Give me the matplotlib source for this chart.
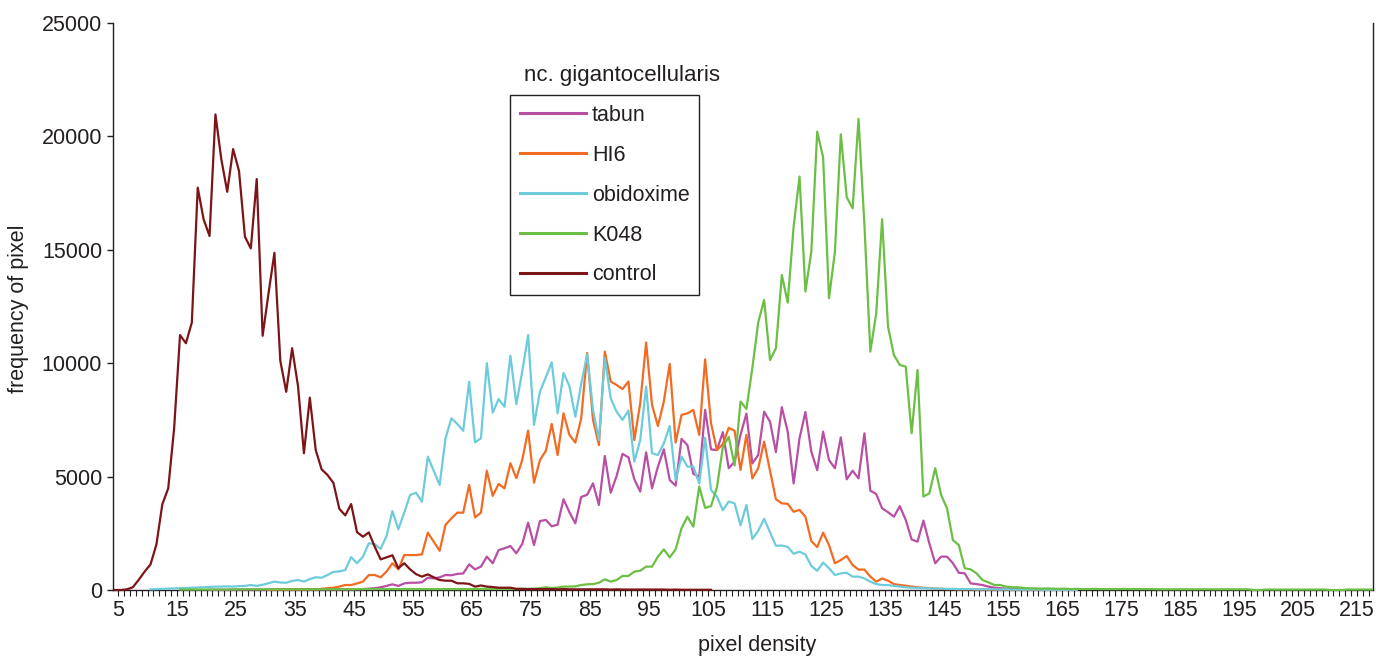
import numpy as np
import matplotlib
matplotlib.use("Agg")
import matplotlib.pyplot as plt
from matplotlib.ticker import FixedLocator

plt.rcParams['font.family'] = ['Liberation Sans', 'DejaVu Sans']

# pixel density categories, each series starts at its own first category
control_start = 4
control = [0, 0, 30, 120, 450, 810, 1130, 2010, 3780, 4480, 7130, 11240, 10880, 11790,
           17740, 16340, 15610, 20970, 18990, 17560, 19440, 18470, 15580, 15060, 18120,
           11210, 13080, 14870, 10100, 8740, 10660, 8990, 6030, 8480, 6170, 5320, 5070,
           4720, 3580, 3290, 3790, 2550, 2350, 2540, 1910, 1350, 1440, 1530, 960, 1180,
           910, 700, 590, 690, 560, 440, 410, 410, 295, 295, 270, 150, 200, 150, 130,
           100, 100, 100, 50, 50, 40, 40, 40, 40, 40, 30, 40, 30, 30, 30, 30, 30, 30, 30,
           20, 30, 20, 20, 20, 20, 20, 20, 20, 20, 10, 20, 10, 10, 10, 10, 10, 10]

tabun_start = 20
tabun = [10, 10, 10, 10, 20, 20, 20, 20, 20, 20, 20, 20, 30, 30, 30, 30, 30, 30, 30, 30,
         30, 30, 30, 30, 30, 30, 40, 60, 80, 120, 180, 250, 180, 290, 320, 320, 340, 540,
         510, 560, 660, 650, 710, 730, 1130, 910, 1030, 1470, 1180, 1760, 1840, 1940,
         1620, 2030, 2970, 1980, 3040, 3090, 2810, 2880, 4000, 3430, 2940, 4100, 4200,
         4700, 3750, 5910, 4290, 5030, 6000, 5850, 4880, 4340, 6070, 4480, 5440, 6200,
         4850, 4600, 6660, 6390, 5120, 5000, 7940, 6200, 6170, 6960, 5370, 5660, 6840,
         7780, 5580, 5950, 7860, 7420, 6080, 8060, 6980, 4700, 6690, 7850, 6100, 5280,
         6980, 5730, 5370, 6730, 4880, 5260, 4920, 6910, 4380, 4230, 3600, 3430, 3230,
         3700, 3090, 2230, 2130, 3060, 2060, 1180, 1470, 1470, 1180, 760, 735, 290, 260,
         220, 150, 100, 80, 60, 50, 40, 30, 30, 30, 20, 20, 20, 10, 10]

hi6_start = 30
hi6 = [10, 20, 20, 20, 20, 30, 30, 30, 30, 50, 80, 100, 150, 220, 220, 290, 370, 660,
       660, 560, 810, 1180, 910, 1540, 1540, 1540, 1570, 2530, 2130, 1730, 2870, 3160,
       3410, 3410, 4630, 3200, 3410, 5260, 4150, 4680, 4480, 5590, 4930, 5730, 7030,
       4730, 5730, 6140, 7320, 5950, 7790, 6840, 6500, 7570, 10450, 7500, 6390, 10510,
       9190, 9040, 8860, 9190, 6610, 8230, 10910, 8160, 7230, 8310, 9970, 6500, 7720,
       7790, 7940, 6840, 10170, 7350, 6170, 6430, 7150, 7020, 5290, 6840, 4920, 5370,
       6540, 5250, 4000, 3820, 3800, 3450, 3530, 3230, 2160, 1890, 2530, 1980, 1180,
       1320, 1500, 1100, 900, 900, 590, 370, 510, 410, 260, 220, 190, 150, 120, 100, 80,
       60, 50, 40, 40, 30, 30, 30, 20, 20, 20, 20, 20, 20, 10, 20, 10, 10, 10, 10, 10,
       10, 10, 10, 10, 10]

obidoxime_start = 10
obidoxime = [30, 40, 50, 60, 70, 80, 90, 100, 110, 120, 130, 150, 150, 160, 150, 170,
             180, 220, 180, 230, 300, 370, 330, 320, 400, 440, 370, 480, 560, 540, 660,
             800, 820, 880, 1450, 1180, 1470, 2060, 2020, 1810, 2380, 3480, 2680, 3410,
             4190, 4290, 3890, 5880, 5260, 4630, 6690, 7570, 7320, 7020, 9180, 6510, 6690,
             10000, 7820, 8420, 8080, 10330, 8190, 9630, 11240, 7280, 8740, 9380, 10040,
             7790, 9570, 8990, 7640, 9080, 10390, 7940, 6610, 10220, 8450, 7860, 7500,
             7910, 5660, 6610, 8970, 6030, 5950, 6470, 7230, 4850, 5880, 5440, 5440, 4700,
             6710, 4410, 4120, 3520, 3900, 3820, 2850, 3750, 2250, 2610, 3140, 2540, 1950,
             1960, 1900, 1600, 1690, 1560, 1060, 850, 1210, 960, 660, 735, 760, 590, 590,
             510, 370, 260, 220, 220, 180, 150, 120, 100, 90, 80, 70, 60, 60, 50, 50, 40,
             40, 40, 30, 30, 30, 30, 20, 30, 20, 20, 20, 20, 20, 10, 10, 10, 10, 10, 10, 10]

k048_start = 15
k048 = [20, 20, 20, 20, 20, 20, 20, 20, 20, 20, 30, 30, 30, 30, 30, 30, 30, 30, 30, 30,
        30, 30, 30, 30, 30, 30, 30, 30, 30, 30, 40, 40, 40, 40, 40, 40, 40, 40, 40, 40,
        40, 40, 40, 40, 40, 40, 40, 40, 40, 40, 50, 50, 50, 50, 50, 50, 50, 50, 50, 50,
        60, 80, 120, 90, 110, 150, 150, 160, 220, 250, 260, 320, 470, 370, 440, 620, 620,
        810, 850, 1030, 1030, 1470, 1790, 1440, 1790, 2720, 3230, 2790, 4560, 3620, 3700,
        4520, 6300, 6750, 5490, 8310, 7980, 9780, 11800, 12790, 10140, 10660, 13890,
        12670, 16020, 18230, 13160, 14920, 20210, 19080, 12860, 14920, 20090, 17320,
        16830, 20770, 16100, 10510, 12200, 16350, 11610, 10360, 9920, 9850, 6910, 9700,
        4120, 4260, 5370, 4190, 3600, 2200, 1980, 960, 910, 735, 440, 340, 220, 220, 150,
        120, 120, 90, 75, 70, 60, 70, 60, 50, 60, 40, 50, 40, 40, 50, 40, 40, 40, 40, 50,
        40, 40, 40, 40, 40, 30, 30, 30, 30, 30, 30, 30, 30, 30, 30, 30, 30, 30, 30, 30, 30,
        0, 0, 20, 20, 20, 20, 20, 20, 20, 20, 20, 20, 20, 0, 0, 0, 20, 20, 20, 20, 20]

series = [
    ("tabun", tabun_start, tabun, "#B84FA5"),
    ("HI6", hi6_start, hi6, "#F26B22"),
    ("obidoxime", obidoxime_start, obidoxime, "#6DCCDC"),
    ("K048", k048_start, k048, "#6CBF45"),
    ("control", control_start, control, "#7D1417"),
]
tick_labels = list(range(5, 216, 10))

W, H = 1376, 656
FS = 15.5
INK = '#231F20'
fig = plt.figure(figsize=(W / 100, H / 100), dpi=100)
ax = fig.add_axes([113.3 / W, (H - 590) / H, (1372.7 - 113.3) / W, (590 - 23) / H])

for name, start, vals, col in series:
    x = np.arange(start, start + len(vals))
    ax.plot(x, vals, color=col, lw=1.6, label=name, zorder=3, clip_on=False)

ax.set_xlim(3.69, 217.15)
ax.set_ylim(0, 25000)
ax.set_yticks(range(0, 25001, 5000))
ax.xaxis.set_major_locator(FixedLocator([t - 0.5 for t in tick_labels]))
ax.set_xticklabels([str(t) for t in tick_labels])
ax.xaxis.set_minor_locator(FixedLocator([k + 0.5 for k in range(4, 217)]))

ax.spines['top'].set_visible(False)
for s in ['left', 'bottom', 'right']:
    ax.spines[s].set_linewidth(1.0)
    ax.spines[s].set_color(INK)
ax.tick_params(axis='y', direction='out', length=4, width=1, labelsize=FS, pad=4,
               colors=INK)
ax.tick_params(axis='x', which='both', direction='out', length=4, width=0.8,
               labelsize=FS, pad=3, colors=INK)

fig.text(757 / W, 1 - 645 / H, "pixel density", ha='center', va='center',
         fontsize=FS, color=INK)
fig.text(19 / W, 1 - 309 / H, "frequency of pixel", ha='center', va='center',
         rotation=90, fontsize=FS, color=INK)
fig.text(524 / W, 1 - 75 / H, "nc. gigantocellularis", ha='left', va='center',
         fontsize=16, color=INK)

leg = ax.legend(loc='upper left', bbox_to_anchor=(510 / W, 1 - 95 / H),
                bbox_transform=fig.transFigure, borderaxespad=0, fontsize=FS,
                handlelength=3.1, handletextpad=0.25, labelspacing=0.88,
                borderpad=0.45, fancybox=False, framealpha=1, edgecolor=INK)
leg.get_frame().set_linewidth(1.0)
for t in leg.get_texts():
    t.set_color(INK)
for h in leg.get_lines():
    h.set_linewidth(2.2)

fig.savefig("out.png", dpi=100)
